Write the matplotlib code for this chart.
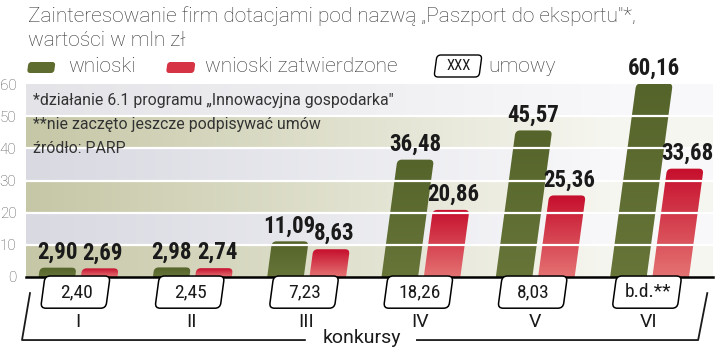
import numpy as np
import matplotlib
matplotlib.use("Agg")
import matplotlib.pyplot as plt
from matplotlib.patches import FancyBboxPatch
from matplotlib.transforms import Affine2D
from matplotlib import font_manager as fm
from matplotlib.colors import to_rgb

# dane
konkursy = ['I', 'II', 'III', 'IV', 'V', 'VI']
wnioski = [2.90, 2.98, 11.09, 36.48, 45.57, 60.16]
zatwierdzone = [2.69, 2.74, 8.63, 20.86, 25.36, 33.68]
umowy = ['2,40', '2,45', '7,23', '18,26', '8,03', 'b.d.**']
yticks = [0, 10, 20, 30, 40, 50, 60]

# fonty - szukamy czegoś wąskiego
lista = fm.fontManager.ttflist
names = {f.name for f in lista}
narrow, stretch = None, 'normal'
for n in ['Liberation Sans Narrow', 'Roboto Condensed', 'Noto Sans Condensed',
          'DejaVu Sans Condensed', 'Open Sans Condensed']:
    if n in names:
        narrow = n
        break
if narrow is None:
    inne = sorted(f.name for f in lista if ('Narrow' in f.name or 'Cond' in f.name)
                  and 'CJK' not in f.name and 'Mono' not in f.name)
    if inne:
        narrow = inne[0]
if narrow is None:
    sc = [f for f in lista if f.stretch in ('condensed', 'semi-condensed', 'extra-condensed')
          and 'Mono' not in f.name and 'CJK' not in f.name]
    if sc:
        narrow, stretch = sc[0].name, 'condensed'
if narrow is None:
    narrow = 'Roboto' if 'Roboto' in names else 'DejaVu Sans'
zwykly = 'Roboto' if 'Roboto' in names else 'DejaVu Sans'

W, H = 720, 351
fig = plt.figure(figsize=(7.2, 3.51), dpi=100)
fig.patch.set_facecolor('white')
ax = fig.add_axes([26 / W, (H - 277) / H, (713 - 26) / W, (277 - 84) / H])
ax.set_xlim(-0.45, 5.56)
ax.set_ylim(0, 60)
for s in ax.spines.values():
    s.set_visible(False)
ax.set_xticks([])
ax.set_yticks(yticks)
ax.set_yticklabels([str(t) for t in yticks], fontsize=11, color='#555555',
                   fontfamily=zwykly, fontweight='light')
ax.tick_params(axis='y', length=0, pad=7)

# pochylenie (x przesuwa się z y)
s_skew = (26 / 114.3) / 60
skew = Affine2D().from_values(1, 0, s_skew, 1, 0, 0)
asp = (60 / 193) / (1 / 114.3)

# tło w pasy
nx = 400
xs = np.linspace(0, 1, nx)
img = np.zeros((60, nx, 3))
oliwka_l, oliwka_p = np.array(to_rgb('#c6c7a6')), np.array(to_rgb('#f6f6f0'))
szary_l, szary_p = np.array(to_rgb('#d8d9e1')), np.array(to_rgb('#f8f8fa'))
for k in range(6):
    l, p = (oliwka_l, oliwka_p) if k % 2 == 0 else (szary_l, szary_p)
    if k == 5:
        l = np.array(to_rgb('#e4e4e8'))
    t = np.clip(xs / 0.85, 0, 1)[:, None]
    img[k * 10:(k + 1) * 10] = (l * (1 - t) + p * t)[None, :, :]
ax.imshow(img, extent=[-0.45, 5.56, 0, 60], origin='lower', aspect='auto',
          interpolation='nearest', zorder=0)


def slupek(x0, w, v, gora, dol):
    p = FancyBboxPatch((x0, -3), w, v + 3, boxstyle="round,pad=0,rounding_size=0.04",
                       mutation_aspect=asp, transform=skew + ax.transData,
                       fc='none', ec='none', zorder=2)
    ax.add_patch(p)
    g = np.linspace(0, 1, 64)[:, None]
    c = np.array(to_rgb(dol)) * (1 - g) + np.array(to_rgb(gora)) * g
    im = ax.imshow(c[:, None, :], extent=[x0 - 0.1, x0 + w + 0.35, 0, v],
                   origin='lower', aspect='auto', zorder=2)
    im.set_clip_path(p)


x = np.arange(len(konkursy))
for i in range(len(konkursy)):
    slupek(x[i] - 0.34, 0.32, wnioski[i], '#55642a', '#677539')
    slupek(x[i] + 0.03, 0.32, zatwierdzone[i], '#c60f2d', '#e47272')
    for xo, v in [(x[i] - 0.185, wnioski[i]), (x[i] + 0.21, zatwierdzone[i])]:
        ax.annotate(f"{v:.2f}".replace('.', ','), (xo + s_skew * v, v),
                    xytext=(0, 4), textcoords='offset pixels', ha='center', va='bottom',
                    fontsize=16.5, fontweight='bold', fontfamily=narrow, fontstretch=stretch,
                    color='#1a1a1a', zorder=5, annotation_clip=False)

# linie siatki
for t in yticks[1:-1]:
    ax.axhline(t, color='white', lw=1.6, zorder=3)
ax.axhline(0, color='black', lw=1.8, zorder=4, clip_on=False)

# ramki z umowami
for i in range(len(konkursy)):
    b = FancyBboxPatch((x[i] - 0.285, -9.7), 0.57, 10.0,
                       boxstyle="round,pad=0,rounding_size=0.045", mutation_aspect=asp,
                       transform=skew + ax.transData, fc='white', ec='black', lw=1.1,
                       clip_on=False, zorder=6)
    ax.add_patch(b)
    ax.text(x[i] - 0.01, -4.7, umowy[i], ha='center', va='center', fontsize=14,
            fontfamily=narrow, fontstretch=stretch, color='#1a1a1a', clip_on=False, zorder=7)
    ax.text(x[i], -14.0, konkursy[i], ha='center', va='center', fontsize=14,
            fontfamily=zwykly, color='#1a1a1a', clip_on=False, zorder=7)

# klamra "konkursy"
yk = -19.6
ax.plot([x[0] - 0.415, x[0] - 0.485, x[2] - 0.01], [-5.0, yk, yk], color='#1a1a1a',
        lw=1.3, clip_on=False, zorder=6)
ax.plot([x[2] + 0.97, x[-1] + 0.43, x[-1] + 0.51], [yk, yk, -5.0], color='#1a1a1a',
        lw=1.3, clip_on=False, zorder=6)
ax.text(x[2] + 0.49, yk + 0.5, 'konkursy', ha='center', va='center', fontsize=14,
        fontfamily=zwykly, color='#1a1a1a', clip_on=False, zorder=7)

# przypisy
for yy, tx in [(55.0, '*działanie 6.1 programu „Innowacyjna gospodarka"'),
               (47.3, '**nie zaczęto jeszcze podpisywać umów'),
               (39.8, 'źródło: PARP')]:
    ax.text(-0.39, yy, tx, ha='left', va='center', fontsize=11.4, fontfamily=zwykly,
            color='#333333', zorder=5)

# tytuł
fig.text(28 / W, 1 - 16 / H, 'Zainteresowanie firm dotacjami pod nazwą „Paszport do eksportu"*,',
         ha='left', va='center', fontsize=15, fontfamily=zwykly, fontweight='light',
         color='#333333')
fig.text(28 / W, 1 - 41 / H, 'wartości w mln zł', ha='left', va='center', fontsize=15,
         fontfamily=zwykly, fontweight='light', color='#333333')


# legenda (w pikselach)
def prostokat(x0, y0, w, h, r, **kw):
    tr = Affine2D().from_values(1, 0, 0.135, 1, 0, 0).translate(x0, H - y0 - h)
    p = FancyBboxPatch((0, 0), w, h, boxstyle=f"round,pad=0,rounding_size={r}",
                       transform=tr, **kw)
    fig.add_artist(p)


prostokat(27, 62, 27, 11, 3, fc='#5e6c30', ec='none')
fig.text(68 / W, 1 - 67 / H, 'wnioski', ha='left', va='center', fontsize=15,
         fontfamily=zwykly, fontweight='light', color='#333333')
prostokat(166, 62, 28, 11, 3, fc='#d63344', ec='none')
fig.text(205 / W, 1 - 67 / H, 'wnioski zatwierdzone', ha='left', va='center', fontsize=15,
         fontfamily=zwykly, fontweight='light', color='#333333')
prostokat(434, 55, 45, 22, 4, fc='white', ec='black', lw=1.0)
fig.text(459 / W, 1 - 66 / H, 'XXX', ha='center', va='center', fontsize=10.5,
         fontfamily=narrow, fontstretch=stretch, color='#1a1a1a')
fig.text(488 / W, 1 - 67 / H, 'umowy', ha='left', va='center', fontsize=15,
         fontfamily=zwykly, fontweight='light', color='#333333')

fig.savefig('out.png', dpi=100, facecolor='white')
